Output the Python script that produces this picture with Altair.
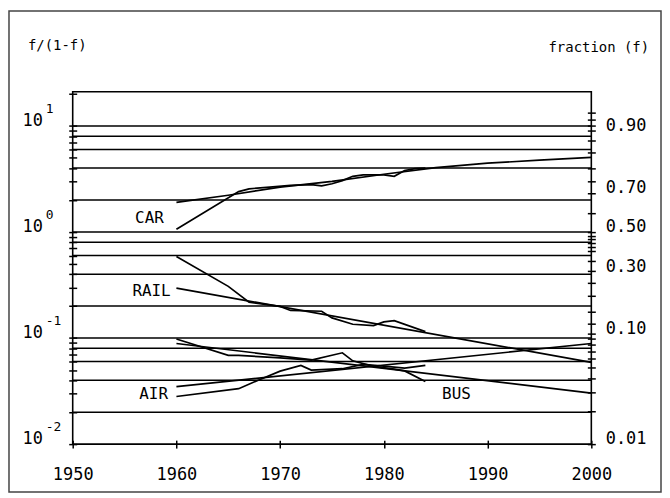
import altair as alt
import pandas as pd

# ---------------- data ----------------
CAR_YEARS = [1960, 1966, 1967, 1969, 1971, 1973, 1974, 1975, 1976, 1977, 1978, 1980, 1981, 1982, 1983, 1984]
CAR_VALUES = [1.06, 2.40, 2.55, 2.65, 2.75, 2.80, 2.72, 2.85, 3.05, 3.35, 3.45, 3.45, 3.35, 3.80, 3.95, 4.00]
CAR_FIT_YEARS = [1960, 1965, 1970, 1975, 1980, 1985, 1990, 1995, 2000]
CAR_FIT_VALUES = [1.90, 2.22, 2.65, 3.00, 3.50, 4.05, 4.45, 4.75, 5.05]

RAIL_YEARS = [1960, 1965, 1967, 1970, 1971, 1974, 1975, 1977, 1979, 1980, 1981, 1984]
RAIL_VALUES = [0.586, 0.307, 0.218, 0.199, 0.182, 0.179, 0.155, 0.135, 0.131, 0.142, 0.146, 0.115]
RAIL_FIT_YEARS = [1960, 2000]
RAIL_FIT_VALUES = [0.296, 0.059]

BUS_YEARS = [1960, 1965, 1966, 1970, 1973, 1976, 1977, 1979, 1981, 1982, 1984]
BUS_VALUES = [0.098, 0.0686, 0.0686, 0.065, 0.062, 0.0726, 0.061, 0.054, 0.051, 0.049, 0.039]
BUS_FIT_YEARS = [1960, 2000]
BUS_FIT_VALUES = [0.0888, 0.0303]

AIR_YEARS = [1960, 1966, 1968, 1970, 1972, 1973, 1976, 1978, 1980, 1982, 1984]
AIR_VALUES = [0.0281, 0.0333, 0.0405, 0.0488, 0.0552, 0.0499, 0.0514, 0.0564, 0.0543, 0.052, 0.0552]
AIR_FIT_YEARS = [1960, 2000]
AIR_FIT_VALUES = [0.0348, 0.0888]

MODE_NAMES = ["CAR", "RAIL", "AIR", "BUS"]
MODE_LABEL_YEARS = [1957.4, 1957.6, 1957.8, 1987.0]
MODE_LABEL_VALUES = [1.353, 0.279, 0.0295, 0.0295]

GRID_VALUES = [0.02, 0.04, 0.06, 0.08, 0.1, 0.2, 0.4, 0.6, 0.8, 1, 2, 4, 6, 8, 10]
LEFT_TICKS = [0.01, 0.02, 0.03, 0.04, 0.05, 0.06, 0.07, 0.08, 0.09,
              0.1, 0.2, 0.3, 0.4, 0.5, 0.6, 0.7, 0.8, 0.9,
              1, 2, 3, 4, 5, 6, 7, 8, 9, 10, 20]
DECADES = [0.01, 0.1, 1, 10]
DECADE_EXPONENTS = ["-2", "-1", "0", "1"]
FRACTION_TICKS = [0.01, 0.02, 0.03, 0.04, 0.05, 0.06, 0.07, 0.08, 0.09, 0.10,
                  0.12, 0.15, 0.20, 0.25, 0.30, 0.35, 0.40, 0.42, 0.44, 0.46,
                  0.48, 0.50, 0.60, 0.70, 0.75, 0.80, 0.85, 0.88, 0.90, 0.91,
                  0.92, 0.93]
X_TICKS = [1950, 1960, 1970, 1980, 1990, 2000]

# ---------------- tables ----------------
rows = []
for mode, kind, ys, vs in [
    ("CAR", "data", CAR_YEARS, CAR_VALUES), ("CAR", "fit", CAR_FIT_YEARS, CAR_FIT_VALUES),
    ("RAIL", "data", RAIL_YEARS, RAIL_VALUES), ("RAIL", "fit", RAIL_FIT_YEARS, RAIL_FIT_VALUES),
    ("BUS", "data", BUS_YEARS, BUS_VALUES), ("BUS", "fit", BUS_FIT_YEARS, BUS_FIT_VALUES),
    ("AIR", "data", AIR_YEARS, AIR_VALUES), ("AIR", "fit", AIR_FIT_YEARS, AIR_FIT_VALUES),
]:
    for i, (y, v) in enumerate(zip(ys, vs)):
        rows.append({"series": mode + "-" + kind, "year": y, "value": v, "order": i})
lines_df = pd.DataFrame(rows)
grid_df = pd.DataFrame({"v": GRID_VALUES})
labels_df = pd.DataFrame({"name": MODE_NAMES, "year": MODE_LABEL_YEARS, "value": MODE_LABEL_VALUES})
dec_df = pd.DataFrame({"v": DECADES, "exp": DECADE_EXPONENTS})
frame_df = pd.DataFrame({"k": [0]})
right_tick_odds = [f / (1 - f) for f in FRACTION_TICKS]

W, H = 521, 354
FONT = "DejaVu Sans Mono"
yscale = alt.Scale(type="log", domain=[0.01, 21], nice=False)
xscale = alt.Scale(domain=[1950, 2000], nice=False, zero=False)

left_axis = alt.Axis(
    values=LEFT_TICKS, labels=False, domain=False, grid=False,
    tickSize=8, tickWidth=1.5, tickColor="black", offset=-4,
    title="f/(1-f)", titleAngle=0, titleX=-20, titleY=-46,
    titleAlign="center", titleBaseline="middle",
    titleFont=FONT, titleFontSize=14, titleFontWeight="normal", titleColor="black",
)
right_axis = alt.Axis(
    orient="right", values=right_tick_odds, domain=False, grid=False,
    tickSize=8, tickWidth=1.5, tickColor="black", offset=-4,
    labelExpr="indexof([1,10,30,50,70,90], round(100*datum.value/(1+datum.value))) >= 0 ? format(datum.value/(1+datum.value), '.2f') : ''",
    labelOverlap=False, labelFont=FONT, labelFontSize=17, labelColor="black",
    labelPadding=10, labelOffset=-5, labelAlign="left",
    title="fraction (f)", titleAngle=0, titleX=11, titleY=-44,
    titleAlign="center", titleBaseline="middle",
    titleFont=FONT, titleFontSize=14, titleFontWeight="normal", titleColor="black",
)
x_axis = alt.Axis(
    values=X_TICKS, format="d", domain=False, grid=False,
    tickSize=8, tickWidth=1.5, tickColor="black", offset=-4,
    labelFont=FONT, labelFontSize=17, labelColor="black", labelFlush=False,
    labelPadding=19, labelBaseline="top", title="",
)

frame = alt.Chart(frame_df).mark_rect(fillOpacity=0, stroke="#444444", strokeWidth=1.5).encode(
    x=alt.value(-64), x2=alt.value(591), y=alt.value(-81), y2=alt.value(402)
)

box = alt.Chart(frame_df).mark_rect(fillOpacity=0, stroke="black", strokeWidth=1.6).encode(
    x=alt.value(0), x2=alt.value(W), y=alt.value(0), y2=alt.value(H)
)

grid = alt.Chart(grid_df).mark_rule(color="black", strokeWidth=1.5).encode(
    y=alt.Y("v:Q", scale=yscale, axis=left_axis),
    x=alt.value(0), x2=alt.value(W),
)

lines = alt.Chart(lines_df).mark_line(color="black", strokeWidth=1.7).encode(
    x=alt.X("year:Q", scale=xscale, axis=x_axis),
    y=alt.Y("value:Q", scale=yscale, axis=right_axis),
    detail="series:N",
    order="order:Q",
)

mode_text = alt.Chart(labels_df).mark_text(
    font=FONT, fontSize=16, color="black", align="center", baseline="middle"
).encode(
    x=alt.X("year:Q", scale=xscale, axis=x_axis),
    y=alt.Y("value:Q", scale=yscale, axis=None),
    text="name:N",
)

dec_base = alt.Chart(dec_df).mark_text(
    font=FONT, fontSize=17, color="black", align="right", baseline="middle", dy=-5
).encode(
    x=alt.value(-30),
    y=alt.Y("v:Q", scale=yscale, axis=None),
    text=alt.value("10"),
)
dec_exp = alt.Chart(dec_df).mark_text(
    font=FONT, fontSize=13, color="black", align="left", baseline="middle", dy=-17
).encode(
    x=alt.value(-27),
    y=alt.Y("v:Q", scale=yscale, axis=None),
    text="exp:N",
)

chart = alt.layer(frame, box, grid, lines, mode_text, dec_base, dec_exp).resolve_scale(
    y="shared", x="shared"
).resolve_axis(
    y="independent"
).properties(
    width=W, height=H,
    background="white",
    autosize=alt.AutoSizeParams(type="none"),
    padding={"left": 65, "top": 83, "right": 71, "bottom": 50},
).configure_view(
    stroke=None
)

chart.save("out.html", embed_options={"renderer": "svg", "actions": False})
